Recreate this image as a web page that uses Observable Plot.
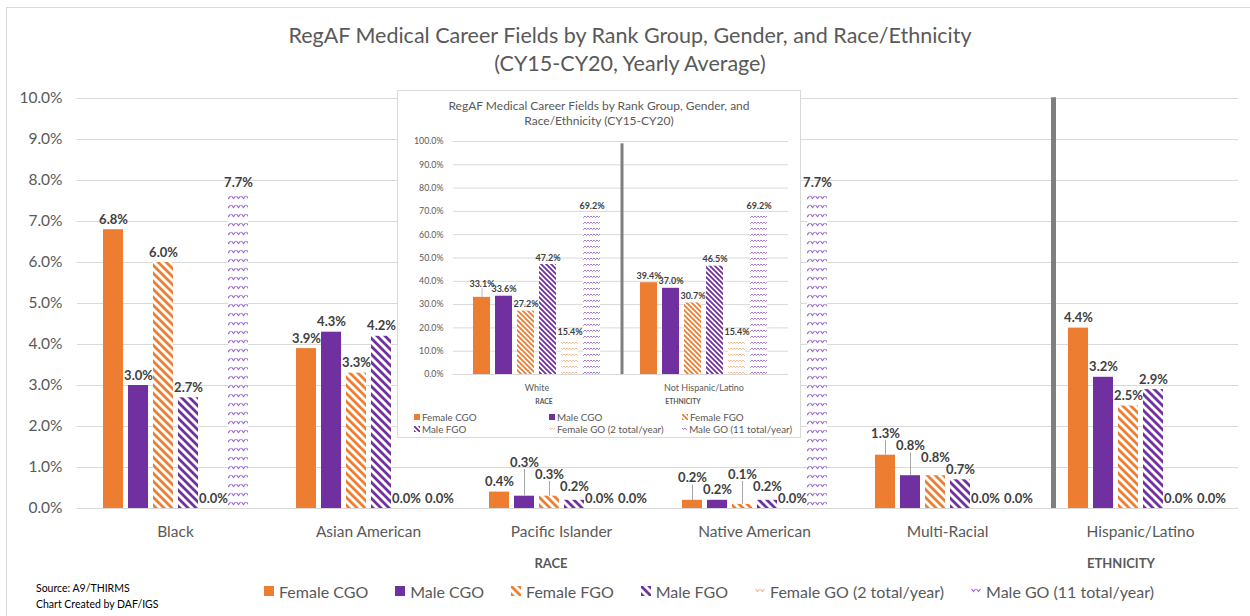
<!DOCTYPE html>
<html>
<head>
<meta charset="utf-8">
<script src="https://cdn.jsdelivr.net/npm/d3@7"></script>
<script src="https://cdn.jsdelivr.net/npm/@observablehq/plot@0.6"></script>
<style>
  body { margin: 0; background: #fff; font-family: Lato, "Open Sans", sans-serif; }
  #wrap { position: relative; width: 1250px; height: 616px; overflow: hidden; background: #fff; }
  .abs { position: absolute; }
  #border { left: 6px; top: 7px; width: 1300px; height: 700px; border: 1px solid #d9d9d9; }
  #title { left: 0; width: 1260px; top: 21px; text-align: center; font-size: 21.5px; line-height: 28px; color: #595959; }
  .grp { transform: translate(-50%, -50%); font-weight: bold; color: #595959; white-space: nowrap; }
  #source { left: 36px; top: 580px; font-size: 10.5px; line-height: 16px; color: #000; }
  #legendMain { left: 264px; top: 580px; display: flex; align-items: center; height: 22px; font-size: 16px; color: #595959; white-space: nowrap; }
  #legendMain .item { display: flex; align-items: center; margin-right: 27px; }
  #legendMain svg { margin-right: 5px; }
  #inset { left: 397px; top: 90px; width: 404px; height: 348px; box-sizing: border-box; border: 1px solid #d9d9d9; background: #fff; }
  #insetTitle { left: 0; width: 402px; top: 7px; text-align: center; font-size: 12px; line-height: 15px; color: #595959; }
  #legendInset { left: 16px; top: 320px; display: grid; grid-template-columns: 135px 133px 110px; grid-auto-rows: 12px; font-size: 9.8px; color: #595959; white-space: nowrap; }
  #legendInset .item { display: flex; align-items: center; }
  #legendInset svg { margin-right: 2px; }
</style>
</head>
<body>
<svg width="0" height="0" style="position:absolute">
  <defs>
    <pattern id="hatchO" width="8" height="8" patternUnits="userSpaceOnUse">
      <rect width="8" height="8" fill="#fff"/>
      <path d="M-2,-2 L10,10 M-2,6 L2,10 M6,-2 L10,2" stroke="#ED7D31" stroke-width="2.8"/>
    </pattern>
    <pattern id="hatchP" width="8" height="8" patternUnits="userSpaceOnUse">
      <rect width="8" height="8" fill="#fff"/>
      <path d="M-2,-2 L10,10 M-2,6 L2,10 M6,-2 L10,2" stroke="#7030A0" stroke-width="2.8"/>
    </pattern>
    <pattern id="dashO" width="5" height="9" patternUnits="userSpaceOnUse">
      <rect width="5" height="9" fill="#fff"/>
      <path d="M0.5,3 L2.5,5.5 L4.5,3" fill="none" stroke="#F4B183" stroke-width="1.1"/>
    </pattern>
    <pattern id="dashP" width="5" height="9" patternUnits="userSpaceOnUse">
      <rect width="5" height="9" fill="#fff"/>
      <path d="M0.5,3 L2.5,5.5 L4.5,3" fill="none" stroke="#9966CC" stroke-width="1.1"/>
    </pattern>
    <pattern id="hatchOs" width="5" height="5" patternUnits="userSpaceOnUse">
      <rect width="5" height="5" fill="#fff"/>
      <path d="M-1,-1 L6,6 M-1,4 L1,6 M4,-1 L6,1" stroke="#ED7D31" stroke-width="1.8"/>
    </pattern>
    <pattern id="hatchPs" width="5" height="5" patternUnits="userSpaceOnUse">
      <rect width="5" height="5" fill="#fff"/>
      <path d="M-1,-1 L6,6 M-1,4 L1,6 M4,-1 L6,1" stroke="#7030A0" stroke-width="1.8"/>
    </pattern>
    <pattern id="dashOs" width="3" height="6" patternUnits="userSpaceOnUse">
      <rect width="3" height="6" fill="#fff"/>
      <path d="M0,2 L1.5,3.6 L3,2" fill="none" stroke="#F4B183" stroke-width="0.9"/>
    </pattern>
    <pattern id="dashPs" width="3" height="6" patternUnits="userSpaceOnUse">
      <rect width="3" height="6" fill="#fff"/>
      <path d="M0,2 L1.5,3.6 L3,2" fill="none" stroke="#9966CC" stroke-width="0.9"/>
    </pattern>
  </defs>
</svg>
<div id="wrap">
  <div class="abs" id="border"></div>
  <div class="abs" id="title">RegAF Medical Career Fields by Rank Group, Gender, and Race/Ethnicity<br>(CY15-CY20, Yearly Average)</div>
  <div class="abs" id="gridMain" style="left:0;top:85px"></div>
  <div class="abs" id="barsMain" style="left:0;top:85px"></div>
  <div class="abs grp" style="left:551px;top:563px;font-size:13px">RACE</div>
  <div class="abs grp" style="left:1121px;top:563px;font-size:13px">ETHNICITY</div>
  <div class="abs" id="source">Source: A9/THIRMS<br>Chart Created by DAF/IGS</div>
  <div class="abs" id="legendMain"></div>
  <div class="abs" id="inset">
    <div class="abs" id="insetTitle">RegAF Medical Career Fields by Rank Group, Gender, and<br>Race/Ethnicity (CY15-CY20)</div>
    <div class="abs" id="gridInset" style="left:0;top:39px"></div>
    <div class="abs" id="barsInset" style="left:0;top:39px"></div>
    <div class="abs grp" style="left:146px;top:310px;font-size:6.8px">RACE</div>
    <div class="abs grp" style="left:285px;top:310px;font-size:6.8px">ETHNICITY</div>
    <div class="abs" id="legendInset"></div>
  </div>
</div>
<script>
// ---------- DATA ----------
const categories = ["Black", "Asian American", "Pacific Islander", "Native American", "Multi-Racial", "Hispanic/Latino"];
const seriesNames = ["Female CGO", "Male CGO", "Female FGO", "Male FGO", "Female GO (2 total/year)", "Male GO (11 total/year)"];
const femaleCGO = [6.8, 3.9, 0.4, 0.2, 1.3, 4.4];
const maleCGO   = [3.0, 4.3, 0.3, 0.2, 0.8, 3.2];
const femaleFGO = [6.0, 3.3, 0.3, 0.1, 0.8, 2.5];
const maleFGO   = [2.7, 4.2, 0.2, 0.2, 0.7, 2.9];
const femaleGO  = [0.0, 0.0, 0.0, 0.0, 0.0, 0.0];
const maleGO    = [7.7, 0.0, 0.0, 7.7, 0.0, 0.0];
const mainYTicks = [0, 1, 2, 3, 4, 5, 6, 7, 8, 9, 10];

const insetCategories = ["White", "Not Hispanic/Latino"];
const insetFemaleCGO = [33.1, 39.4];
const insetMaleCGO   = [33.6, 37.0];
const insetFemaleFGO = [27.2, 30.7];
const insetMaleFGO   = [47.2, 46.5];
const insetFemaleGO  = [15.4, 15.4];
const insetMaleGO    = [69.2, 69.2];
const insetYTicks = [0, 10, 20, 30, 40, 50, 60, 70, 80, 90, 100];

// ---------- STYLE ----------
const mainFills = ["#ED7D31", "#7030A0", "url(#hatchO)", "url(#hatchP)", "url(#dashO)", "url(#dashP)"];
const insetFills = ["#ED7D31", "#7030A0", "url(#hatchOs)", "url(#hatchPs)", "url(#dashOs)", "url(#dashPs)"];
const fmt = d => d.toFixed(1) + "%";
const LAST = seriesNames[seriesNames.length - 1];

function buildRows(cats, cols) {
  const rows = [];
  cats.forEach((c, i) => seriesNames.forEach((s, j) => rows.push({cat: c, series: s, j, value: cols[j][i]})));
  return rows;
}
const mainCols = [femaleCGO, maleCGO, femaleFGO, maleFGO, femaleGO, maleGO];
const mainRows = buildRows(categories, mainCols);
const insetCols = [insetFemaleCGO, insetMaleCGO, insetFemaleFGO, insetMaleFGO, insetFemaleGO, insetMaleGO];
const insetRows = buildRows(insetCategories, insetCols);

// Label placement (Excel "best fit"-like): a label that would collide with its right neighbour is lifted, with a leader line
function placeLabels(rows, cats, gap) {
  cats.forEach(c => {
    const g = rows.filter(d => d.cat === c);
    g.forEach(d => d.ly = d.value);
    for (let j = 3; j >= 0; j--) {
      if (Math.abs(g[j].ly - g[j + 1].ly) < gap) g[j].ly = g[j + 1].ly + gap;
    }
    g.forEach(d => d.lift = d.ly - d.value);
  });
}
placeLabels(mainRows, categories, 0.29);
placeLabels(insetRows, insetCategories, 2.2);
const shiftRight = d => d.series === LAST && d.value === 0;

// ---------- MAIN CHART ----------
const M = {width: 1250, height: 463, marginLeft: 77, marginRight: 12, marginTop: 13, marginBottom: 40};

document.getElementById("gridMain").append(Plot.plot({
  ...M,
  style: {fontFamily: "Lato, sans-serif", fontSize: "15.5px", color: "#595959", background: "transparent"},
  y: {domain: [0, 10], ticks: mainYTicks, tickFormat: fmt, tickSize: 0, tickPadding: 15, label: null},
  marks: [Plot.ruleY(mainYTicks, {stroke: "#d9d9d9", strokeWidth: 1})]
}));

const labelOpts = {fx: "cat", x: "series", y: "ly", text: d => fmt(d.value), lineAnchor: "bottom", fontWeight: "bold", fill: "#404040"};
document.getElementById("barsMain").append(Plot.plot({
  ...M,
  style: {fontFamily: "Lato, sans-serif", fontSize: "15.5px", color: "#595959", background: "transparent", overflow: "visible"},
  fx: {domain: categories, paddingInner: 0.204, paddingOuter: 0.102, axis: "bottom", tickSize: 0, tickPadding: 17, label: null},
  x: {domain: seriesNames, paddingInner: 0.22, paddingOuter: 0.1, axis: null},
  y: {domain: [0, 10], axis: null},
  marks: [
    ...seriesNames.map((s, j) => Plot.barY(mainRows.filter(d => d.series === s), {fx: "cat", x: "series", y: "value", fill: mainFills[j]})),
    Plot.ruleX(mainRows.filter(d => d.lift >= 0.2), {fx: "cat", x: "series", y1: "value", y2: d => d.ly + 0.08, stroke: "#a6a6a6", strokeWidth: 1}),
    Plot.text(mainRows.filter(d => !shiftRight(d)), {...labelOpts, dy: -6, fontSize: 13}),
    Plot.text(mainRows.filter(shiftRight), {...labelOpts, dy: -6, dx: 8, fontSize: 13}),
    Plot.ruleX([{cat: "Hispanic/Latino", series: seriesNames[0]}], {fx: "cat", x: "series", y1: 0, y2: 10.02, dx: -25, stroke: "#7f7f7f", strokeWidth: 5})
  ]
}));

// ---------- INSET CHART ----------
const I = {width: 402, height: 265, marginLeft: 55, marginRight: 12, marginTop: 11, marginBottom: 21};

document.getElementById("gridInset").append(Plot.plot({
  ...I,
  style: {fontFamily: "Lato, sans-serif", fontSize: "8.8px", color: "#595959", background: "transparent"},
  y: {domain: [0, 100], ticks: insetYTicks, tickFormat: fmt, tickSize: 0, tickPadding: 10, label: null},
  marks: [Plot.ruleY(insetYTicks, {stroke: "#d9d9d9", strokeWidth: 1})]
}));

document.getElementById("barsInset").append(Plot.plot({
  ...I,
  style: {fontFamily: "Lato, sans-serif", fontSize: "9px", color: "#595959", background: "transparent", overflow: "visible"},
  fx: {domain: insetCategories, paddingInner: 0.226, paddingOuter: 0.113, axis: "bottom", tickSize: 0, tickPadding: 10, label: null},
  x: {domain: seriesNames, paddingInner: 0.21, paddingOuter: 0.0, axis: null},
  y: {domain: [0, 100], axis: null},
  marks: [
    ...seriesNames.map((s, j) => Plot.barY(insetRows.filter(d => d.series === s), {fx: "cat", x: "series", y: "value", fill: insetFills[j]})),
    Plot.ruleX(insetRows.filter(d => d.lift > 1), {fx: "cat", x: "series", y1: "value", y2: d => d.ly + 1, stroke: "#a6a6a6", strokeWidth: 0.8}),
    Plot.text(insetRows, {...labelOpts, dy: -4, fontSize: 9}),
    Plot.ruleX([{cat: "Not Hispanic/Latino", series: seriesNames[0]}], {fx: "cat", x: "series", y1: 0, y2: 99, dx: -27, stroke: "#7f7f7f", strokeWidth: 3})
  ]
}));

// ---------- LEGENDS ----------
function swatch(fill, size) {
  const ns = "http://www.w3.org/2000/svg";
  const svg = document.createElementNS(ns, "svg");
  svg.setAttribute("width", size); svg.setAttribute("height", size);
  const r = document.createElementNS(ns, "rect");
  r.setAttribute("width", size); r.setAttribute("height", size); r.setAttribute("fill", fill);
  svg.append(r);
  return svg;
}
const lm = document.getElementById("legendMain");
seriesNames.forEach((s, j) => {
  const it = document.createElement("div"); it.className = "item";
  it.append(swatch(mainFills[j], 10), document.createTextNode(s));
  lm.append(it);
});
const li = document.getElementById("legendInset");
seriesNames.forEach((s, j) => {
  const it = document.createElement("div"); it.className = "item";
  it.append(swatch(insetFills[j], 6), document.createTextNode(s));
  li.append(it);
});
</script>
</body>
</html>
